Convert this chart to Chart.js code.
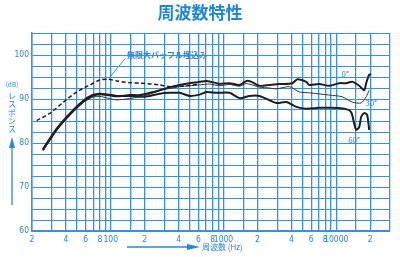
<!DOCTYPE html>
<html><head><meta charset="utf-8">
<script src="https://cdn.jsdelivr.net/npm/chart.js@4"></script>
<style>html,body{margin:0;padding:0;background:#fff;}#wrap{width:400px;height:257px;}</style>
</head><body><div id="wrap"><canvas id="c" width="400" height="257"></canvas></div>
<script>
const chartTitle = '周波数特性';
const yAxisTitle = 'レスポンス';
const yAxisUnit = '(dB)';
const xAxisTitle = '周波数 (Hz)';
const baffleLabel = '無限大バッフル埋込み';
const seriesNames = ['無限大バッフル', '0°', '30°', '60°'];

const xTickValues = [20,30,40,50,60,70,80,90,100,150,200,300,400,500,600,700,800,900,1000,1500,2000,3000,4000,5000,6000,7000,8000,9000,10000,15000,20000,30000];
const xTickLabels = {20:'2',40:'4',60:'6',80:'8',100:'100',200:'2',400:'4',600:'6',800:'8',1000:'1000',2000:'2',4000:'4',6000:'6',8000:'8',10000:'10000',20000:'2'};
const yTickValues = [60,62.5,65,67.5,70,72.5,75,77.5,80,82.5,85,87.5,90,92.5,95,97.5,100,102.5,105];
const yTickLabels = [60,70,80,90,100];

const baffleFreq = [22, 29, 38, 50, 65, 80, 94, 113, 147, 181, 272, 334, 470, 600];
const baffleDb   = [85.1, 86.8, 89.3, 91.6, 93.2, 94.3, 94.5, 94.1, 93.7, 93.6, 93.2, 92.8, 93.0, 93.4];

const deg0Freq = [25, 33, 43, 57, 69, 80, 94, 113, 147, 181, 222, 272, 334, 408, 500, 614, 708, 867, 922, 1130, 1386, 1600, 1770, 2085, 2554, 3132, 4083, 4520, 5430, 5770, 7080, 8670, 10640, 12270, 13860, 15990, 17700, 18440, 19600, 20400];
const deg0Db   = [78.4, 83.0, 86.4, 89.4, 90.7, 91.1, 90.9, 90.6, 90.9, 90.9, 91.4, 92.0, 92.7, 93.2, 93.6, 93.9, 94.1, 93.6, 93.4, 93.6, 93.2, 94.1, 93.9, 93.0, 93.2, 93.4, 93.6, 94.5, 93.9, 93.2, 93.4, 93.0, 93.6, 93.6, 93.9, 93.0, 92.0, 93.6, 95.5, 95.7];

const deg30Freq = [25, 33, 43, 57, 69, 80, 94, 113, 147, 181, 222, 272, 334, 408, 500, 614, 752, 922, 1130, 1386, 1600, 2085, 2554, 2946, 3840, 4700, 5770, 8670, 11300, 13860, 16640, 18440, 19600];
const deg30Db   = [78.2, 82.8, 86.2, 89.2, 90.4, 90.6, 90.2, 89.8, 90.1, 90.5, 91.1, 91.9, 92.4, 92.8, 93.0, 93.2, 93.4, 93.0, 93.3, 92.9, 93.5, 92.7, 92.5, 92.3, 92.8, 91.6, 91.4, 90.9, 90.5, 89.3, 89.1, 90.5, 92.0];

const deg60Freq = [25, 33, 43, 57, 69, 80, 94, 113, 147, 181, 222, 272, 334, 408, 500, 614, 708, 867, 1130, 1386, 1700, 2085, 2946, 3612, 4428, 5430, 7080, 9220, 12270, 13580, 14420, 15030, 15990, 16640, 17700, 18800, 19600];
const deg60Db   = [78.6, 83.2, 86.6, 89.6, 90.9, 91.2, 91.0, 90.7, 90.7, 90.5, 90.7, 91.2, 91.4, 91.4, 90.7, 91.0, 91.6, 91.4, 91.4, 90.2, 90.7, 90.7, 89.1, 89.3, 88.2, 87.8, 88.0, 88.0, 87.7, 87.0, 84.5, 83.0, 83.6, 85.9, 86.8, 86.4, 83.0];

const BLUE = '#3a8fe0';
const TEXTBLUE = '#2d84d6';
const INK = '#1e1e1e';
const CJK = '"Noto Sans CJK JP", "Noto Sans", sans-serif';
const NUMFONT = '"Liberation Sans Narrow", "DejaVu Sans Condensed", "Liberation Sans", sans-serif';

function pts(fs, ds) { return fs.map((f, i) => ({x: f, y: ds[i]})); }

const annot = {
  id: 'annot',
  afterDraw(chart) {
    const ctx = chart.ctx, xs = chart.scales.x, ys = chart.scales.y;
    ctx.save();
    ctx.fillStyle = '#1f86da';
    ctx.font = 'bold 17px ' + CJK;
    ctx.textAlign = 'center'; ctx.textBaseline = 'middle';
    ctx.fillText(chartTitle, 200, 13);
    ctx.fillStyle = TEXTBLUE; ctx.strokeStyle = BLUE; ctx.lineWidth = 1;
    ctx.font = 'bold 8px ' + CJK;
    ctx.textAlign = 'left';
    ctx.fillText(baffleLabel, xs.getPixelForValue(139), ys.getPixelForValue(100));
    ctx.beginPath();
    ctx.moveTo(xs.getPixelForValue(97), ys.getPixelForValue(94.8));
    ctx.lineTo(xs.getPixelForValue(134), ys.getPixelForValue(99.2));
    ctx.stroke();
    ctx.font = '8px ' + CJK;
    ctx.textAlign = 'center';
    ctx.fillText('0°', xs.getPixelForValue(12000), ys.getPixelForValue(95.7));
    ctx.fillText('30°', xs.getPixelForValue(20400), ys.getPixelForValue(89.1));
    ctx.fillText('60°', xs.getPixelForValue(14400), ys.getPixelForValue(80.7));
    ctx.font = '6.5px ' + CJK;
    ctx.fillText(yAxisUnit, 12, 85);
    ctx.font = '8px ' + CJK;
    const chars = Array.from(yAxisTitle);
    chars.forEach((c, i) => ctx.fillText(c, 12, 96 + i * 8.3));
    ctx.fillStyle = '#2a86dc'; ctx.strokeStyle = '#2a86dc'; ctx.lineWidth = 1.3;
    ctx.beginPath(); ctx.moveTo(12, 205); ctx.lineTo(12, 146); ctx.stroke();
    ctx.beginPath(); ctx.moveTo(12, 137); ctx.lineTo(15, 148); ctx.lineTo(9, 148); ctx.closePath(); ctx.fill();
    ctx.beginPath(); ctx.moveTo(127, 247); ctx.lineTo(190, 247); ctx.stroke();
    ctx.beginPath(); ctx.moveTo(200, 247); ctx.lineTo(187, 244); ctx.lineTo(187, 250); ctx.closePath(); ctx.fill();
    ctx.fillStyle = TEXTBLUE;
    ctx.font = '8px ' + CJK; ctx.textAlign = 'left';
    ctx.fillText(xAxisTitle, 202, 247);
    ctx.restore();
  }
};

new Chart(document.getElementById('c'), {
  type: 'line',
  data: {
    datasets: [
      {label: seriesNames[0], data: pts(baffleFreq, baffleDb), borderColor: INK, borderWidth: 1.5, borderDash: [4, 2.5]},
      {label: seriesNames[1], data: pts(deg0Freq, deg0Db), borderColor: INK, borderWidth: 2},
      {label: seriesNames[2], data: pts(deg30Freq, deg30Db), borderColor: '#333', borderWidth: 1},
      {label: seriesNames[3], data: pts(deg60Freq, deg60Db), borderColor: INK, borderWidth: 2}
    ]
  },
  options: {
    responsive: false,
    animation: false,
    devicePixelRatio: 1,
    layout: {padding: {top: 33, right: 10, left: 0, bottom: 0}},
    elements: {point: {radius: 0}, line: {tension: 0.25, fill: false}},
    plugins: {legend: {display: false}, tooltip: {enabled: false}, title: {display: false}},
    scales: {
      x: {
        type: 'logarithmic', min: 20, max: 30000,
        afterBuildTicks(s) { s.ticks = xTickValues.map(v => ({value: v})); },
        afterFit(s) { s.height = 26; },
        grid: {color: BLUE, lineWidth: 1.3, drawTicks: false},
        border: {display: true, color: BLUE, width: 1.5},
        ticks: {autoSkip: false, maxRotation: 0, padding: 4, color: TEXTBLUE,
          font: {size: 8.5, family: NUMFONT},
          callback(v) { return xTickLabels[v] || ''; }}
      },
      y: {
        type: 'linear', min: 60, max: 105,
        afterBuildTicks(s) { s.ticks = yTickValues.map(v => ({value: v})); },
        afterFit(s) { s.width = 32; },
        grid: {color: BLUE, lineWidth: 1, drawTicks: false},
        border: {display: true, color: BLUE, width: 1.5},
        ticks: {autoSkip: false, padding: 3, color: TEXTBLUE,
          font: {size: 8.5, family: NUMFONT},
          callback(v) { return yTickLabels.includes(v) ? String(v) : ''; }}
      }
    }
  },
  plugins: [annot]
});
</script></body></html>
